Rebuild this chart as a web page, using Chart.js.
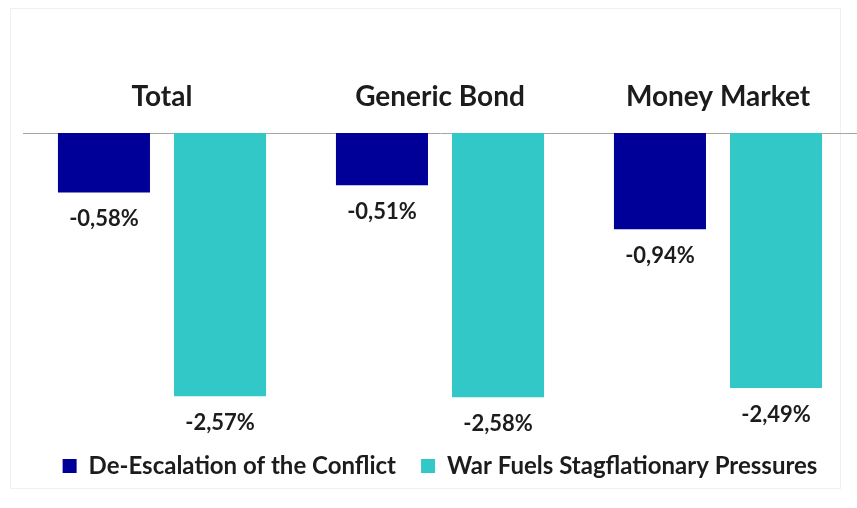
<!DOCTYPE html>
<html>
<head>
<meta charset="utf-8">
<script src="https://cdn.jsdelivr.net/npm/chart.js@4"></script>
<style>
  html, body { margin: 0; padding: 0; background: #fff; }
  #wrap { width: 857px; height: 508px; }
</style>
</head>
<body>
<div id="wrap"><canvas id="myChart"></canvas></div>
<script>
const categories = ["Total", "Generic Bond", "Money Market"];
const seriesNames = ["De-Escalation of the Conflict", "War Fuels Stagflationary Pressures"];
const deEscalation = [-0.58, -0.51, -0.94];
const warFuels = [-2.57, -2.58, -2.49];

const FONT = "Lato, 'Open Sans', sans-serif";

function fmt(v) {
  return v.toFixed(2).replace(".", ",") + "%";
}

// value labels under each bar
const valueLabels = {
  id: "valueLabels",
  afterDatasetsDraw(chart) {
    const ctx = chart.ctx;
    ctx.save();
    ctx.font = "bold 22px " + FONT;
    ctx.fillStyle = "#1c1c1c";
    ctx.textAlign = "center";
    ctx.textBaseline = "middle";
    chart.data.datasets.forEach((ds, i) => {
      chart.getDatasetMeta(i).data.forEach((bar, j) => {
        ctx.fillText(fmt(ds.data[j]), bar.x, bar.y + 27);
      });
    });
    ctx.restore();
  },
};

// light frame around the whole chart
const frame = {
  id: "frame",
  beforeDraw(chart) {
    const ctx = chart.ctx;
    ctx.save();
    ctx.fillStyle = "#fff";
    ctx.fillRect(0, 0, chart.width, chart.height);
    ctx.strokeStyle = "#f0f0f0";
    ctx.lineWidth = 1;
    ctx.strokeRect(10.5, 8.5, 830, 480);
    ctx.restore();
  },
};

const ctx = document.getElementById("myChart");
const myChart = new Chart(ctx, {
  type: "bar",
  data: {
    labels: categories,
    datasets: [
      {
        label: seriesNames[0],
        data: deEscalation,
        backgroundColor: "#000099",
        borderWidth: 0,
        categoryPercentage: 0.835,
        barPercentage: 0.793,
      },
      {
        label: seriesNames[1],
        data: warFuels,
        backgroundColor: "#33c8c8",
        borderWidth: 0,
        categoryPercentage: 0.835,
        barPercentage: 0.793,
      },
    ],
  },
  plugins: [frame, valueLabels],
  options: {
    responsive: true,
    maintainAspectRatio: false,
    animation: false,
    layout: {
      padding: { left: 23, right: 0, top: 0, bottom: 20 },
    },
    plugins: {
      tooltip: { enabled: false },
      legend: {
        position: "bottom",
        labels: {
          boxWidth: 14,
          boxHeight: 14,
          padding: 25,
          color: "#1c1c1c",
          font: { family: FONT, size: 24, weight: "bold" },
        },
      },
    },
    scales: {
      x: {
        position: "top",
        afterFit: (scale) => {
          scale.height = 133;
        },
        grid: { display: false },
        border: { display: true, color: "#a6a6a6", width: 1 },
        ticks: {
          padding: 11,
          color: "#1c1c1c",
          font: { family: FONT, size: 28, weight: "bold" },
        },
      },
      y: {
        display: false,
        min: -2.89,
        max: 0,
      },
    },
  },
});
</script>
</body>
</html>
